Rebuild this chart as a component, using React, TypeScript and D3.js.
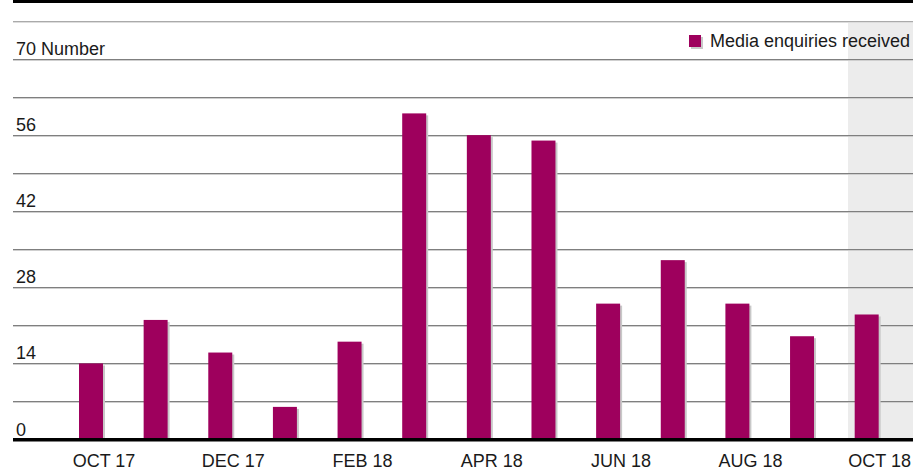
import React from "react";
import * as d3 from "d3";

const months = ["OCT 17","NOV 17","DEC 17","JAN 18","FEB 18","MAR 18","APR 18","MAY 18","JUN 18","JUL 18","AUG 18","SEP 18","OCT 18"];
const enquiries = [14, 22, 16, 6, 18, 60, 56, 55, 25, 33, 25, 19, 23];
const labelledMonths = ["OCT 17","DEC 17","FEB 18","APR 18","JUN 18","AUG 18","OCT 18"];
const gridValues = [7, 14, 21, 28, 35, 42, 49, 56, 63, 70, 77];
const tickLabels = [0, 14, 28, 42, 56, 70];
const seriesName = "Media enquiries received";

const W = 913, H = 471;
const LEFT = 13;
const BAR_COLOR = "#9e005d";
const FONT = "'Liberation Sans', Arial, sans-serif";
const FS = 18;

export default function App() {
  const y = d3.scaleLinear().domain([0, 77]).range([439.5, 21]);
  const x = d3.scaleBand<string>().domain(months).range([58.67, 899]).paddingInner(0.629).paddingOuter(0.3145);
  const bw = x.bandwidth();
  return (
    <svg width={W} height={H} style={{ position: "absolute", left: 0, top: 0, background: "#fff" }} fontFamily={FONT}>
      <rect x={0} y={0} width={W} height={H} fill="#fff" />
      <rect x={LEFT} y={0} width={W - LEFT} height={3} fill="#000" />
      <rect x={848} y={y(77) + 1} width={W - 848} height={y(0) - y(77) - 1} fill="#ececec" />
      {gridValues.map((v) => (
        <g key={v}>
          <line x1={LEFT} x2={W} y1={Math.round(y(v)) + 0.5} y2={Math.round(y(v)) + 0.5} stroke={v === 77 ? "#aaaaaa" : "#7f7f7f"} strokeWidth={1} />
          <line x1={LEFT} x2={W} y1={Math.round(y(v)) + 1.5} y2={Math.round(y(v)) + 1.5} stroke={v === 77 ? "#dddddd" : "#cfcfcf"} strokeWidth={1} />
        </g>
      ))}
      {tickLabels.map((v) => (
        <text key={v} x={16} y={y(v) - 4} fontSize={FS} fill="#1a1a1a">
          {v === 70 ? "70 Number" : String(v)}
        </text>
      ))}
      {months.map((m, i) => (
        <g key={m}>
          <rect x={(x(m) as number) + 2} y={y(enquiries[i]) + 2} width={bw} height={y(0) - y(enquiries[i]) - 2} fill="#c8c8c8" />
          <rect x={x(m) as number} y={y(enquiries[i])} width={bw} height={y(0) - y(enquiries[i])} fill={BAR_COLOR} />
        </g>
      ))}
      <rect x={LEFT} y={438} width={W - LEFT} height={3.5} fill="#000" />
      {labelledMonths.map((m) => (
        <text key={m} x={(x(m) as number) + bw / 2 + 13} y={467} fontSize={FS} textAnchor="middle" fill="#1a1a1a">
          {m}
        </text>
      ))}
      <rect x={691} y={37} width={12} height={12} fill="#c8c8c8" />
      <rect x={689} y={35} width={12} height={12} fill={BAR_COLOR} />
      <text x={910} y={47} fontSize={FS} textAnchor="end" fill="#1a1a1a">{seriesName}</text>
    </svg>
  );
}
